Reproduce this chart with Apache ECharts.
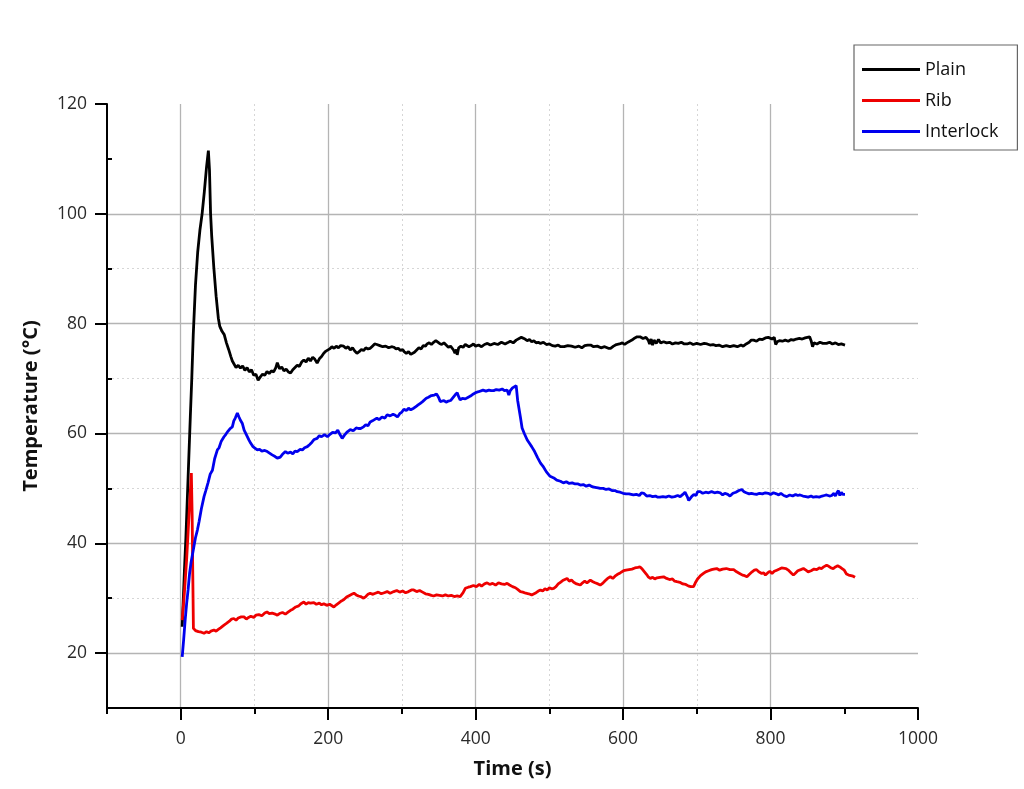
<!DOCTYPE html>
<html>
<head>
<meta charset="utf-8">
<script src="https://cdn.jsdelivr.net/npm/echarts@6/dist/echarts.min.js"></script>
<style>html,body{margin:0;padding:0;background:#fff}#c{width:1024px;height:789px}</style>
</head>
<body>
<div id="c"></div>
<script>
const seriesNames = ['Plain', 'Rib', 'Interlock'];
const xTickLabels = [0, 200, 400, 600, 800, 1000];
const xMinorTicks = [-100, 100, 300, 500, 700, 900];
const yTickLabels = [20, 40, 60, 80, 100, 120];
const yMinorTicks = [10, 30, 50, 70, 90, 110];

const plain = [[2,24.8],[5,35],[7,41],[10,52],[13,63],[15,70],[17,78],[20,87],[23,93],[26,97],[29,100],[32,104],[35,108.5],[37.5,111.5],[39,108],[40.5,100],[42,96],[45,90],[48,85],[51,81],[53,79.5],[56,78.6],[59,78],[62,76.5],[65,75.3],[68,74],[70,73.2],[72,73],[75,72],[78,72.4],[81,71.9],[84,72.3],[87,71.5],[90,72],[93,71.2],[96,71.6],[99,70.6],[102,70.8],[105,69.7],[108,70.3],[111,70.8],[114,70.6],[117,71.3],[120,70.9],[123,71.4],[126,71.2],[129,72],[131,72.9],[134,71.8],[137,72.1],[140,71.4],[143,71.7],[146,71.2],[149,71],[152,71.6],[155,72],[158,72.4],[161,72.2],[164,73],[167,73.4],[170,73],[173,73.7],[176,73.2],[179,73.9],[182,73.5],[185,72.8],[188,73.6],[191,74],[194,74.6],[197,75],[199,75.2],[202,75.4],[205,75.8],[208,75.5],[211,75.9],[214,75.6],[217,76],[221,75.9],[224,75.5],[227,75.8],[230,75.2],[233,75.6],[236,75],[239,74.6],[242,74.9],[245,75.3],[248,75.1],[251,75.6],[254,75.4],[257,75.5],[260,75.9],[263,76.3],[266,76.2],[270,76],[274,75.8],[278,75.9],[282,75.6],[286,75.8],[289,75.7],[292,75.4],[295,75.5],[298,75.1],[301,75.3],[303,74.9],[306,74.6],[309,74.9],[312,74.4],[314,74.1],[317,74.8],[320,75.2],[323,75.6],[326,75.4],[329,76],[332,75.9],[334,76.3],[337,76.5],[340,76.2],[343,76.6],[346,76.9],[348,76.9],[351,76.4],[354,76.2],[357,76.5],[360,76.1],[363,75.7],[366,75.9],[370,75.2],[372,74.6],[374,75.3],[375,74.3],[377,75.6],[380,75.9],[383,75.7],[386,76.2],[388,76.1],[391,75.8],[394,76],[397,76.3],[400,75.9],[404,76.1],[408,75.8],[412,76.2],[416,76.4],[420,76.1],[425,76.4],[430,76.2],[435,76.6],[440,76.3],[443,76.5],[447,76.8],[451,76.5],[455,77],[459,77.3],[462,77.5],[464,77.6],[467,77.2],[470,76.9],[473,77.1],[476,76.7],[479,76.9],[482,76.5],[485,76.6],[488,76.4],[492,76.6],[496,76.2],[500,76.3],[504,76],[508,75.9],[512,76.1],[515,75.8],[520,75.8],[525,76],[530,75.9],[535,75.7],[540,75.9],[544,75.6],[548,76],[552,76.1],[556,76.1],[560,75.8],[565,75.9],[570,75.6],[575,75.8],[580,75.5],[583,75.5],[587,75.9],[591,76.2],[595,76.3],[599,76.5],[602,76.2],[605,76.5],[609,76.8],[612,77],[616,77.4],[619,77.6],[623,77.6],[627,77.3],[631,77.5],[634,77],[636,76.3],[638,77.2],[640,76.1],[642,77],[645,76.4],[648,77.1],[651,76.5],[655,76.7],[659,76.5],[663,76.6],[667,76.3],[671,76.5],[675,76.4],[679,76.6],[683,76.3],[687,76.3],[691,76.5],[695,76.2],[700,76.4],[705,76.2],[710,76.4],[714,76.3],[718,76.1],[722,76.2],[726,76],[730,76.1],[735,75.8],[740,76],[745,75.8],[750,76],[755,75.8],[760,76.1],[763,75.9],[767,76.3],[771,76.6],[774,77],[777,77],[781,76.8],[785,77.2],[789,77.1],[793,77.4],[797,77.5],[799,77.6],[802,77.2],[805,77.5],[807,76.2],[809,76.7],[812,76.9],[816,76.8],[820,77],[824,76.8],[828,77.1],[831,77],[835,77.2],[839,77.3],[843,77.2],[847,77.4],[850,77.5],[853,77.6],[855,76.9],[857,75.8],[859,76.5],[863,76.3],[867,76.6],[871,76.4],[876,76.4],[880,76.6],[884,76.3],[888,76.5],[892,76.2],[896,76.3],[901,76.1]];

const rib = [[2,26],[5,31],[8,37],[10,42],[12,47],[14.4,52.8],[15.5,45],[16.3,35],[17.2,24.5],[20,24.1],[24,23.9],[28,23.8],[31.6,23.6],[35,23.9],[38,23.7],[41,24],[45,24.2],[48,24],[51,24.3],[54,24.6],[58.7,25.1],[62,25.4],[66,25.8],[69,26.2],[72,26.3],[75,26],[78,26.4],[82,26.6],[85.8,26.6],[89,26.2],[92,26.5],[95,26.7],[99,26.5],[102,26.9],[106,27],[110,26.8],[114,27.3],[117,27.5],[120,27.2],[124,27.3],[128,27.1],[131,26.9],[134,27.2],[138,27.4],[142,27.1],[146,27.5],[149,27.8],[152,28],[156,28.4],[160,28.6],[163,29],[167,29.3],[170,28.9],[173,29.2],[176,29.1],[180.6,29.2],[184,28.9],[188,29.1],[191,28.8],[194,29],[198,28.7],[202,28.9],[207.7,28.4],[211,28.8],[215,29.2],[218,29.5],[221,29.7],[225,30.2],[229,30.5],[232,30.7],[235,30.9],[238,30.6],[241,30.4],[244,30.3],[248,30],[251,30.3],[254,30.7],[257,30.9],[260,30.7],[264,30.9],[268,31.1],[272,30.8],[276,31],[280,31.2],[284,30.9],[289,31.2],[293,31.4],[297,31.1],[301,31.3],[305,31],[309,31.2],[313,31.5],[316,31.5],[320,31.2],[324,31.4],[328,31.1],[332,30.8],[336,30.7],[340,30.5],[343,30.4],[347,30.6],[351,30.5],[355,30.4],[359,30.6],[363,30.4],[367,30.5],[371,30.3],[375,30.4],[379,30.3],[383,31],[386,31.8],[390,32],[393,32.1],[397,32.3],[401,32.1],[405,32.5],[408,32.2],[412,32.6],[415.6,32.8],[419,32.5],[423,32.7],[427,32.4],[431,32.8],[435,32.6],[439,32.5],[442.7,32.7],[446,32.4],[450,32.1],[454,31.9],[457,31.6],[460.7,31.2],[464,31.1],[468,30.9],[472,30.8],[476,30.6],[478.7,30.6],[482,31],[485,31.3],[488,31.5],[491,31.3],[494,31.7],[497,31.5],[500,31.9],[503,31.7],[506,31.8],[509,32.1],[512,32.6],[515,32.9],[518,33.2],[521,33.4],[524,33.6],[527,33.1],[530,33.3],[533,32.9],[537,32.6],[542,32.4],[545,32.8],[548,33.1],[551,32.8],[555.6,33.3],[559,33],[562,32.8],[566,32.6],[569,32.4],[573,32.8],[576,33.2],[579,33.6],[582.7,33.9],[586,33.6],[589,34],[592,34.3],[596,34.6],[600.7,35],[604,35.1],[608,35.2],[612,35.3],[616,35.5],[620,35.6],[623,35.7],[626,35.3],[629,34.8],[632,34.3],[634,33.9],[637,33.6],[640,33.8],[643,33.5],[646,33.7],[650,33.8],[655,33.9],[659,33.6],[663,33.4],[667,33.5],[670,33.1],[673,33],[677,32.9],[681,32.6],[685,32.5],[689,32.2],[692,32.1],[695.6,32.1],[698,32.8],[701,33.5],[705,34.1],[709,34.5],[712,34.8],[716,35],[720,35.2],[723,35.3],[727,35.4],[731,35.1],[735,35.3],[740,35.4],[745,35.2],[750,35.2],[754,34.8],[758,34.5],[762,34.2],[765,34.1],[768,33.9],[771,34.3],[775,34.8],[778,35.1],[781,35.2],[784,34.8],[788,34.5],[791,34.6],[793,34.2],[796,34.6],[799,34.9],[802,34.5],[805,34.9],[808.5,35.1],[812,35.3],[815,35.5],[817.5,35.7],[821,35.4],[825,35],[828,34.6],[831,34.2],[834,34.6],[837,35],[841,35.2],[844.6,35.4],[848,35.1],[851,34.8],[855,35],[859,35.3],[862.7,35.2],[866,35.5],[869,35.4],[872,35.7],[876,36],[879,35.8],[882,35.5],[885,35.4],[888,35.7],[891,35.9],[894,35.7],[897,35.4],[900,35.1],[903,34.4],[906,34.2],[909,34.1],[912,34],[914.6,33.8]];

const interlock = [[2,19.3],[4,22.5],[6,26],[8,29],[10,31.5],[12,34.5],[14,36.5],[16,38],[18,39.5],[20,41],[22.6,42.4],[25,44],[28,46.3],[31.6,48.5],[34,49.6],[37,51],[40,52.6],[43,53.3],[46,55.4],[49.7,57],[52,57.4],[55,58.6],[58.7,59.4],[61,59.8],[64,60.4],[67,60.9],[70,61.2],[72,62.3],[74,62.8],[76.8,63.7],[79,63],[81,62.4],[83.6,61.8],[86,60.6],[89,59.8],[92.6,58.8],[95,58.2],[98,57.6],[101,57.3],[103.9,57],[107,57.1],[110,56.8],[114,56.9],[117.4,56.7],[120,56.4],[124,56.1],[128,55.8],[131,55.5],[133,55.3],[135,55.7],[138,56.2],[142,56.7],[145,56.4],[149,56.6],[152,56.3],[155,56.8],[158,56.7],[162,57.1],[165,57],[168,57.4],[171.7,57.6],[175,58],[178,58.4],[181,58.9],[185,59.1],[188,59.6],[191,59.4],[195,59.8],[199,59.4],[202,59.8],[206,60.2],[210,60.1],[213,60.6],[216,59.8],[219,59.1],[222,59.7],[226,60.3],[230,60.7],[234,60.5],[238,61],[241,60.9],[244,60.9],[248,61.2],[251,61.6],[254,61.4],[257,62.1],[260,62.3],[262,62.6],[266,62.8],[269,62.5],[273,63],[277,62.8],[280,63.4],[284,63.2],[288,63.5],[291,63.3],[294,63],[297,63.6],[300,63.9],[302.6,64.4],[306,64.2],[309,64.6],[312,64.3],[316,64.6],[319,64.9],[322,65.2],[325,65.5],[328,65.8],[330,66.1],[333,66.4],[336,66.6],[340,66.9],[344,67],[347,67.2],[350,66.5],[352,65.8],[354.6,65.6],[357,66],[360,65.7],[363,65.9],[366,66],[369,66.5],[372,67],[375,67.4],[377,66.7],[379,66.1],[382,66.4],[386,66.3],[390,66.6],[393,66.8],[397,67.2],[401,67.5],[404,67.6],[406.5,67.8],[410,67.9],[414,67.7],[418,67.9],[421,67.8],[424.5,67.8],[428,68],[432,67.9],[436,68.1],[439,67.8],[442.7,67.9],[445,67],[447,67.8],[450,68.3],[452.6,68.6],[455,68.7],[457,66],[460.7,63],[463,61],[466,60],[470,58.8],[473,58.2],[476,57.6],[480,56.7],[484,55.6],[488,54.6],[492,53.9],[496,53],[501,52.2],[506,51.9],[510,51.5],[515,51.3],[519,51],[523,51.2],[527,50.9],[531,51],[535,50.8],[539,50.8],[542,50.6],[546,50.7],[550,50.4],[554,50.6],[558,50.3],[562,50.2],[566,50.1],[569,50],[573,50],[577,49.8],[581,49.9],[585,49.6],[589,49.6],[592,49.4],[596,49.3],[600,49.1],[604,49],[608,49],[611,48.9],[614,48.8],[618,48.9],[622,48.7],[625,49.2],[628,49.1],[632,48.6],[636,48.7],[640,48.5],[644,48.6],[647,48.4],[650,48.4],[654,48.5],[658,48.4],[662,48.6],[666,48.4],[670,48.5],[674,48.7],[677.5,48.5],[681,48.9],[684,49.3],[687,48.5],[689,47.8],[691,47.9],[693,48.5],[696,48.9],[699,48.7],[701,49.4],[704.6,49.4],[708,49.1],[712,49.3],[716,49.2],[720,49.4],[724,49.2],[728,49.3],[731.7,49.2],[735,48.8],[738,49.1],[742,48.9],[745,48.6],[749,49.1],[753,49.3],[757,49.6],[761,49.8],[764,49.4],[767,49.2],[771,49],[774,49.1],[777,49],[781,48.9],[785,49.1],[789,49],[793,49.2],[797,49.1],[800,48.9],[804,49.2],[808,49],[811,48.8],[814,49.1],[818,48.7],[822,48.5],[826,48.8],[830,48.6],[834,48.9],[837,48.7],[840,48.8],[844,48.6],[848,48.5],[851,48.4],[855,48.6],[858,48.4],[862,48.5],[866,48.4],[870,48.6],[873,48.7],[876,48.8],[880,48.6],[883,48.7],[886,49.1],[888,48.6],[890,49.2],[892,49.6],[894,48.7],[896,49.3],[898,48.9],[901,48.9]];

const FONT = '"Open Sans", "Noto Sans", sans-serif';
const chart = echarts.init(document.getElementById('c'), null, {renderer: 'canvas'});

const xMain = {
  type: 'value', min: -100, max: 1000, interval: 100, position: 'bottom',
  name: 'Time (s)', nameLocation: 'middle', nameGap: 51,
  nameTextStyle: {fontFamily: FONT, fontSize: 20, fontWeight: 'bold', color: '#111'},
  axisLine: {show: true, onZero: false, lineStyle: {color: '#000', width: 2}},
  axisTick: {show: true, length: 12, customValues: xTickLabels, lineStyle: {color: '#000', width: 2}},
  axisLabel: {show: true, margin: 22, fontFamily: FONT, fontSize: 17.5, color: '#2a2a2a',
    formatter: v => (xTickLabels.indexOf(v) >= 0 ? String(v) : '')},
  splitLine: {show: true, showMinLine: true, showMaxLine: false,
    lineStyle: {color: '#b4b4b4', width: 1.3, type: 'solid'}}
};
const xMinor = {
  type: 'value', min: -100, max: 1000, interval: 100, position: 'bottom',
  axisLine: {show: false, onZero: false},
  axisTick: {show: true, length: 6, customValues: xMinorTicks, lineStyle: {color: '#000', width: 2}},
  axisLabel: {show: false},
  splitLine: {show: true, showMaxLine: false,
    lineStyle: {color: '#d6d6d6', width: 1, type: [2, 3]}}
};
const yMain = {
  type: 'value', min: 10, max: 120, interval: 10, position: 'left',
  name: 'Temperature (°C)', nameLocation: 'middle', nameGap: 66,
  nameTextStyle: {fontFamily: FONT, fontSize: 20, fontWeight: 'bold', color: '#111'},
  axisLine: {show: true, onZero: false, lineStyle: {color: '#000', width: 2}},
  axisTick: {show: true, length: 12, customValues: yTickLabels, lineStyle: {color: '#000', width: 2}},
  axisLabel: {show: true, margin: 20, fontFamily: FONT, fontSize: 17.5, color: '#2a2a2a',
    formatter: v => (yTickLabels.indexOf(v) >= 0 ? String(v) : '')},
  splitLine: {show: true, showMaxLine: false,
    lineStyle: {color: '#b4b4b4', width: 1.3, type: 'solid'}}
};
const yMinor = {
  type: 'value', min: 10, max: 120, interval: 10, position: 'left',
  axisLine: {show: false, onZero: false},
  axisTick: {show: true, inside: true, length: 5, customValues: yMinorTicks, lineStyle: {color: '#000', width: 2}},
  axisLabel: {show: false},
  splitLine: {show: true, showMaxLine: false,
    lineStyle: {color: '#d6d6d6', width: 1, type: [2, 3]}}
};

function lineSeries(name, data, color) {
  return {
    name: name, type: 'line', data: data, xAxisIndex: 0, yAxisIndex: 0,
    showSymbol: false, symbol: 'none', smooth: false, animation: false,
    lineStyle: {color: color, width: 2.8}, itemStyle: {color: color}, z: 5
  };
}

chart.setOption({
  animation: false,
  backgroundColor: '#fff',
  grid: {left: 107, right: 106, top: 104, bottom: 81, containLabel: false},
  xAxis: [xMain, xMinor],
  yAxis: [yMain, yMinor],
  legend: {
    show: true, orient: 'vertical', left: 854, top: 45,
    data: seriesNames,
    icon: 'rect', itemWidth: 58, itemHeight: 3, itemGap: 12,
    padding: [15, 19, 9, 8],
    borderColor: '#666', borderWidth: 1.2, borderRadius: 0,
    textStyle: {fontFamily: FONT, fontSize: 18, color: '#111', lineHeight: 19}
  },
  series: [
    lineSeries(seriesNames[0], plain, '#000000'),
    lineSeries(seriesNames[1], rib, '#ee0000'),
    lineSeries(seriesNames[2], interlock, '#0000ee')
  ]
});
</script>
</body>
</html>
